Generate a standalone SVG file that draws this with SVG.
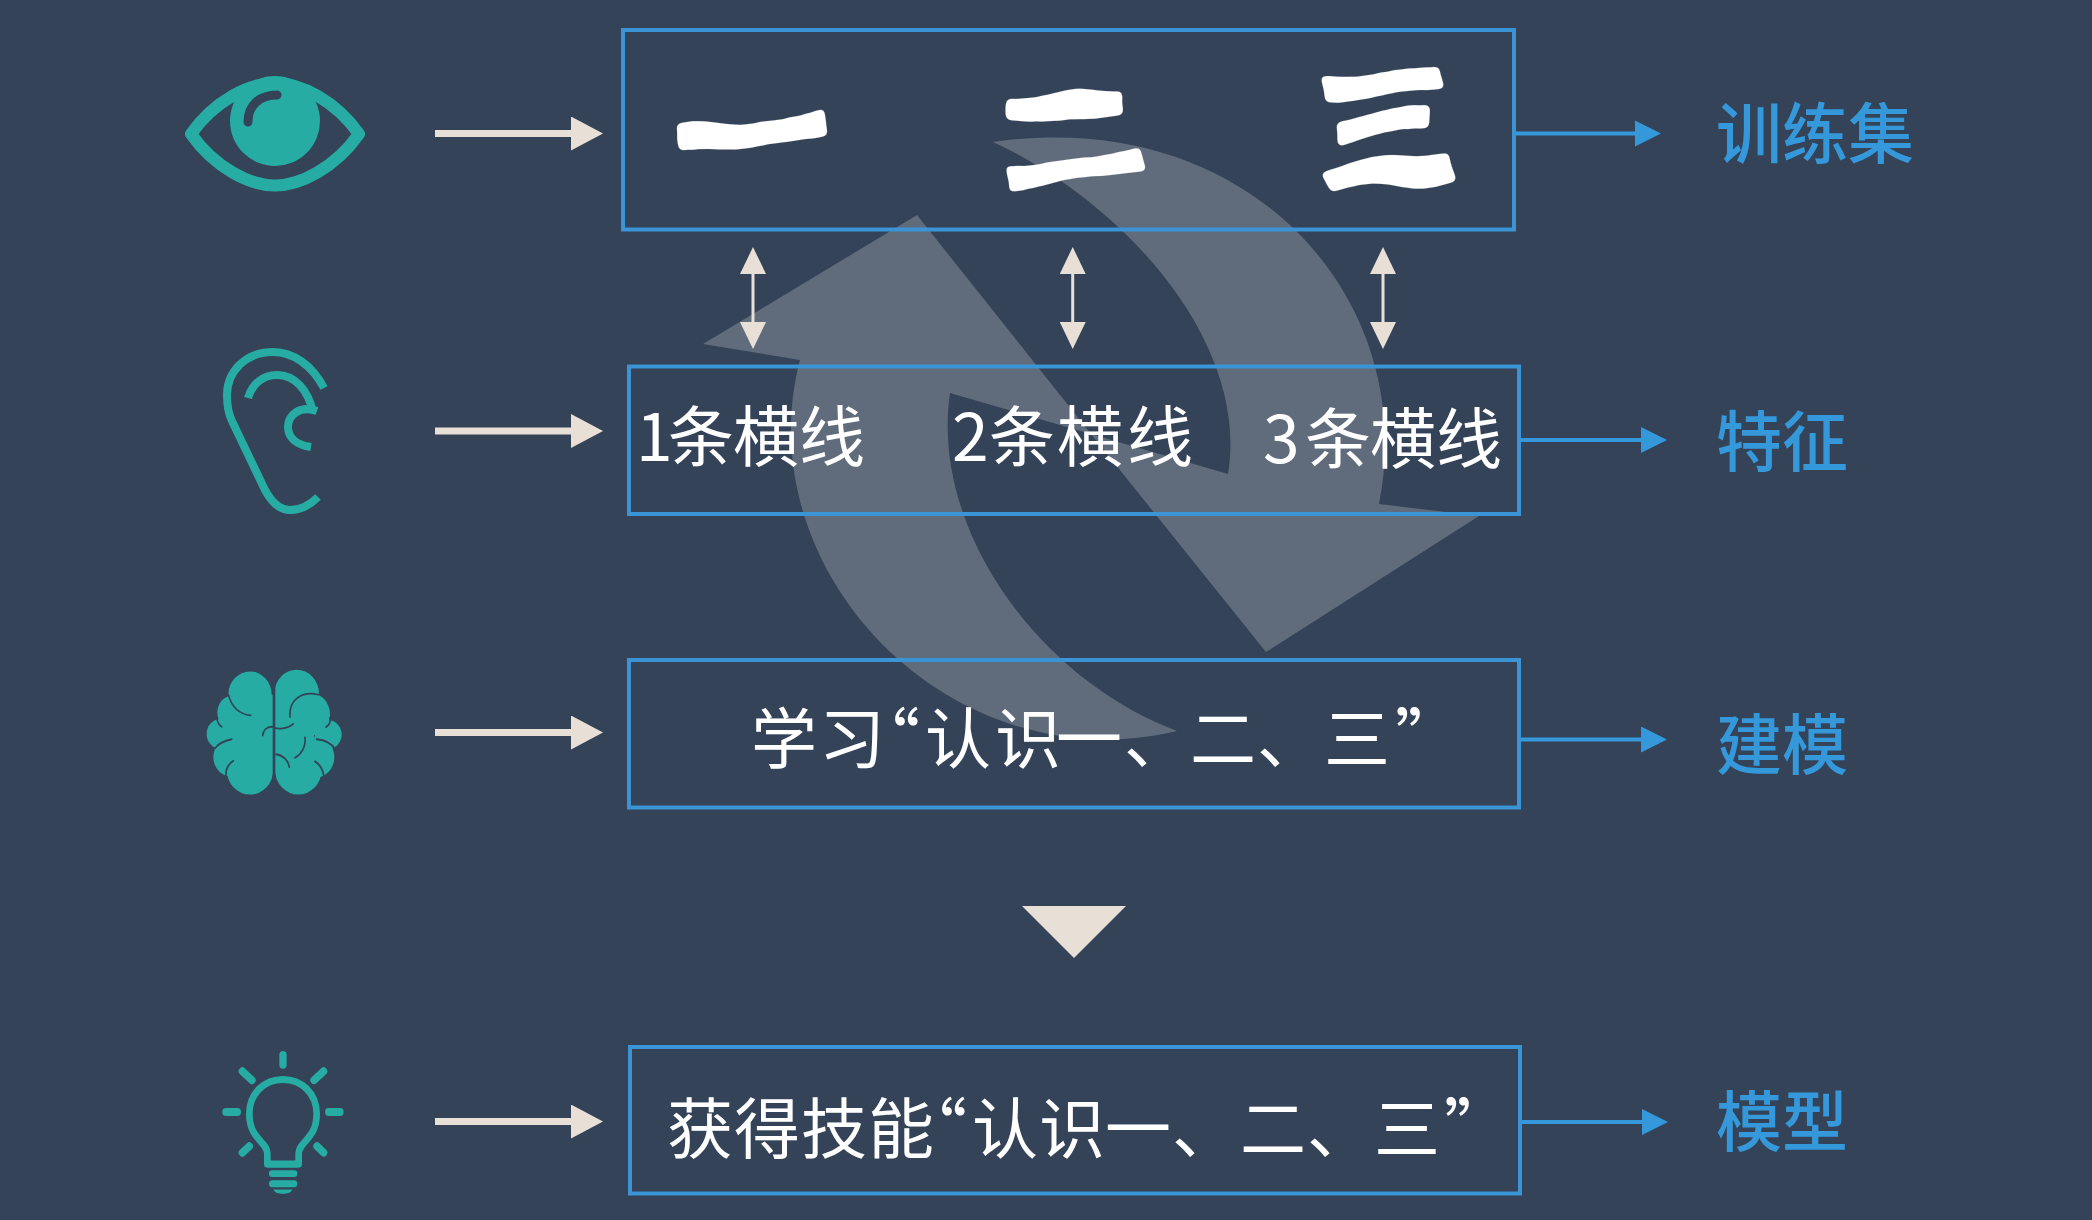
<svg xmlns="http://www.w3.org/2000/svg" width="2092" height="1220" viewBox="0 0 2092 1220">
<style>
text{font-family:"Noto Sans CJK SC","Liberation Sans",sans-serif}
.box{fill:none;stroke:#3a94d6;stroke-width:4}
.body{fill:#fff;font-size:66px}
.brush{fill:#fff;font-weight:900;text-anchor:middle;stroke:#fff;stroke-linejoin:round}
.label{fill:#3498db;font-size:66px;font-weight:500}
.cream{stroke:#e8e0d6;stroke-width:7;fill:none;marker-end:url(#creamHead)}
.double{stroke:#e8e0d6;stroke-width:3;fill:none;marker-start:url(#dblHead);marker-end:url(#dblHead)}
.blue{stroke:#3498db;stroke-width:4;fill:none;marker-end:url(#blueHead)}
.teal{fill:#27aca4}
.tl{stroke:#27aca4;fill:none;stroke-linecap:round;stroke-linejoin:round}
.gr{stroke:#344358;fill:none;stroke-linecap:round}
</style>
<defs>
<marker id="creamHead" markerUnits="userSpaceOnUse" markerWidth="32" markerHeight="34" refX="0" refY="17" orient="auto"><path d="M0,0L32,17L0,34Z" fill="#e8e0d6"/></marker>
<marker id="dblHead" markerUnits="userSpaceOnUse" markerWidth="27" markerHeight="26" refX="0" refY="13" orient="auto-start-reverse"><path d="M0,0L27,13L0,26Z" fill="#e8e0d6"/></marker>
<marker id="blueHead" markerUnits="userSpaceOnUse" markerWidth="26" markerHeight="26" refX="0" refY="13" orient="auto"><path d="M0,0L26,13L0,26Z" fill="#3498db"/></marker>
<filter id="inkBrush" filterUnits="userSpaceOnUse" x="640" y="40" width="860" height="180" color-interpolation-filters="sRGB">
<feTurbulence type="fractalNoise" baseFrequency="0.012" numOctaves="1" seed="7" result="n"/>
<feDisplacementMap in="SourceGraphic" in2="n" scale="40" xChannelSelector="R" yChannelSelector="G"/>
<feGaussianBlur stdDeviation="2.500"/>
<feComponentTransfer><feFuncA type="linear" slope="6" intercept="-2.500"/></feComponentTransfer>
</filter>
</defs>
<rect width="2092" height="1220" fill="#344358"/>
<g id="cycle" fill="#fff" fill-opacity=".22">
<path d="M800,360L703,344L917,215L1091,434L950,393C930,530 1040,680 1177,731C950,785 745,570 800,360Z"/>
<path d="M993,142C1250,105 1420,300 1379,504L1479,516L1266,652L1091,434L1228,474C1250,340 1120,200 993,142Z"/>
</g>
<g id="connectors">
<path class="cream" d="M435,133.500H571"/>
<path class="cream" d="M435,431H571"/>
<path class="cream" d="M435,732.500H571"/>
<path class="cream" d="M435,1121.500H571"/>
<path class="double" d="M753,274V322"/>
<path class="double" d="M1072.700,274V322"/>
<path class="double" d="M1383,274V322"/>
<path class="blue" d="M1514,133.500H1635"/>
<path class="blue" d="M1519,440H1641"/>
<path class="blue" d="M1519,739.500H1641"/>
<path class="blue" d="M1520,1122H1642"/>
<path id="down" d="M1022,906H1126L1074,958Z" fill="#e8e0d6"/>
</g>
<g id="eye">
<path class="tl" stroke-width="12" d="M191,134C215,100 250,83 275,83C300,83 335,100 359,134C335,168 300,185.500 275,185.500C250,185.500 215,168 191,134Z"/>
<circle class="teal" cx="275" cy="121" r="45"/>
<path class="gr" stroke-width="9" d="M248,122C248,105 260,95 277,95"/>
</g>
<g id="ear" class="tl" stroke-width="8">
<path stroke-linecap="butt" d="M324,388C312,365 293,352 273,352C245,352 227,372 227,395C227,408 229,415 232,421L265,490C272,503 280,510 290,510C300,510 310,505 318,497"/>
<path stroke-linecap="butt" d="M248,398C252,384 263,375 277,375C295,375 308,390 313,412"/>
<path stroke-linecap="butt" d="M317,411C300,405 288,415 288,427C288,438 297,445 311,447"/>
</g>
<g id="brain" transform="translate(190,650) scale(.3333,.357)">
<g class="teal">
<circle cx="180" cy="125" r="65"/><circle cx="130" cy="175" r="48"/><circle cx="92" cy="235" r="42"/><circle cx="125" cy="300" r="55"/><circle cx="180" cy="335" r="70"/><rect x="130" y="125" width="122" height="220"/>
<circle cx="320" cy="122" r="67"/><circle cx="360" cy="180" r="60"/><circle cx="415" cy="237" r="40"/><circle cx="375" cy="300" r="58"/><circle cx="325" cy="335" r="70"/><rect x="252" y="122" width="120" height="220"/>
</g>
<path class="gr" stroke-width="8" d="M252,50V410"/>
<g class="gr" stroke-width="5">
<path d="M115,125C125,160 150,180 182,183"/><path d="M80,190C82,200 85,210 95,215"/><path d="M125,250C100,255 85,262 75,275"/><path d="M130,310C112,322 105,340 108,360"/>
<path d="M385,125C340,115 295,135 300,188"/><path d="M310,207C295,220 265,225 245,215C230,215 220,225 218,240"/><path d="M345,245C348,270 335,292 315,302"/><path d="M258,292C280,295 295,310 298,328"/><path d="M380,250C405,252 425,262 435,278"/><path d="M375,312C392,322 400,340 402,355"/><path d="M420,190C422,200 418,210 408,216"/>
</g>
</g>
<g id="bulb" transform="translate(190,650) scale(.3333,.357)">
<path class="tl" stroke-width="20" d="M232,1440V1410C230,1375 178,1370 178,1300C178,1240 225,1203 279,1203C333,1203 380,1240 380,1300C380,1370 328,1375 326,1410V1440Z"/>
<g class="tl" stroke-width="22">
<path d="M279,1134V1162"/><path d="M157,1180L186,1205"/><path d="M401,1180L372,1205"/><path d="M108,1294H142"/><path d="M416,1294H450"/><path d="M157,1408L178,1390"/><path d="M401,1408L381,1390"/>
</g>
<g class="teal"><rect x="237" y="1457" width="85" height="19" rx="9"/><rect x="237" y="1485" width="85" height="20" rx="10"/><path d="M250,1511H307C302,1521 292,1523 279,1523C265,1523 255,1521 250,1511Z"/></g>
</g>
<g id="box-training">
<rect class="box" x="623" y="30" width="891" height="199.500"/>
<g filter="url(#inkBrush)">
<text class="brush" font-size="155" stroke-width="8" transform="translate(753,134) rotate(-8) scale(1,.85)" y="54">一</text>
<text class="brush" font-size="150" stroke-width="6" transform="translate(1071,135) rotate(-7) scale(1,.77)" y="52">二</text>
<text class="brush" font-size="145" stroke-width="5" transform="translate(1384,130) rotate(-7) scale(1,.96)" y="52">三</text>
</g>
</g>
<g id="box-features">
<rect class="box" x="629" y="366.500" width="890" height="147.500"/>
<text class="body" y="461" x="636 668 733 799">1条横线</text>
<text class="body" y="461" x="952 989 1057 1127">2条横线</text>
<text class="body" y="463" x="1263 1305 1370 1436">3条横线</text>
</g>
<g id="box-learn">
<rect class="box" x="629" y="660" width="890" height="147.500"/>
<text class="body" y="763" x="751 819 854 925 995 1056 1124 1190 1257 1324 1395">学习“认识一、二、三”</text>
</g>
<g id="box-skill">
<rect class="box" x="630" y="1047" width="890" height="146.500"/>
<text class="body" y="1153" x="667 734 801 868 901 972 1039 1105 1172 1240 1307 1374 1444">获得技能“认识一、二、三”</text>
</g>
<g id="labels">
<text class="label" x="1716" y="158">训练集</text>
<text class="label" x="1716" y="466">特征</text>
<text class="label" x="1716" y="769">建模</text>
<text class="label" x="1716" y="1146">模型</text>
</g>
</svg>
